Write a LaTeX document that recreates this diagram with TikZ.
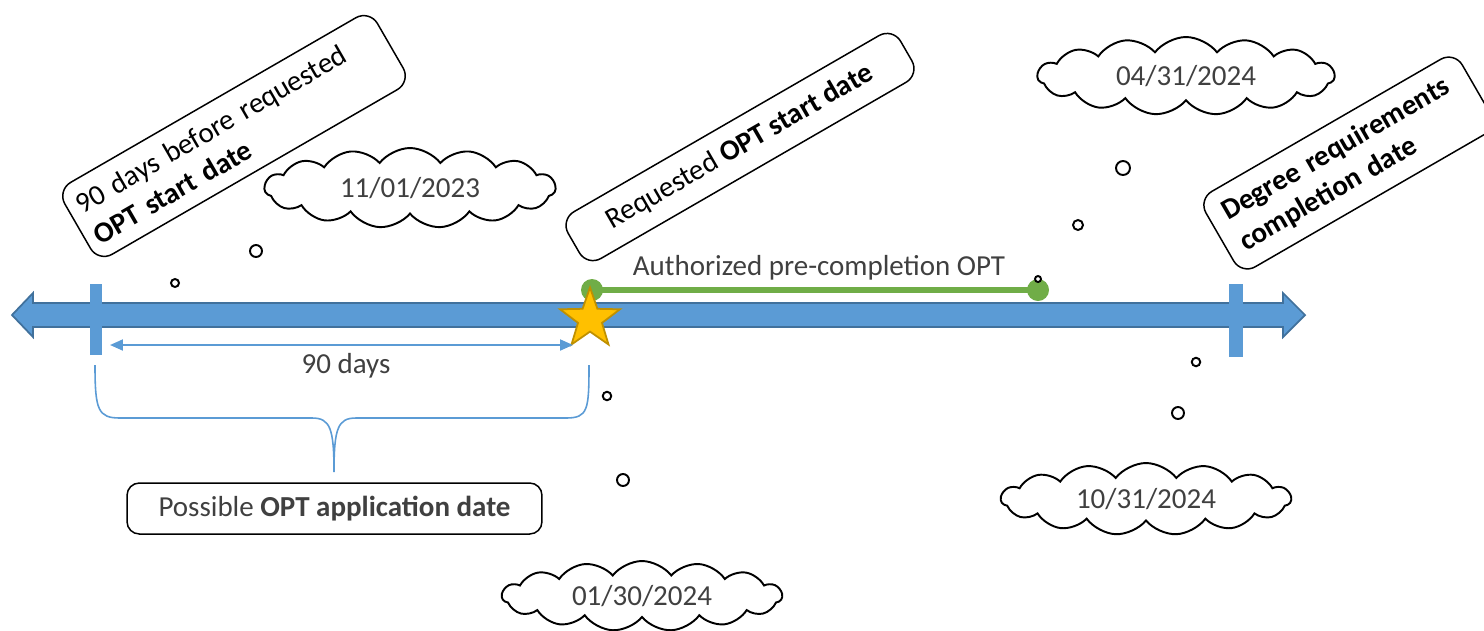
\documentclass[tikz,border=0pt]{standalone}
\usepackage{fontspec}
\setmainfont{Carlito}
\usetikzlibrary{shapes.geometric,shapes.symbols,arrows.meta}
\definecolor{axisblue}{HTML}{5B9BD5}
\definecolor{axisedge}{HTML}{41719C}
\definecolor{optgreen}{HTML}{70AD47}
\definecolor{stargold}{HTML}{FFC000}
\definecolor{staredge}{HTML}{BF9000}
\definecolor{txtgray}{HTML}{404040}

\begin{document}
\begin{tikzpicture}[x=0.02cm,y=-0.02cm]
\tikzstyle{every node}+=[font=\fontsize{16.5}{20}\selectfont]
\tikzstyle{datebox}=[draw=black, line width=0.85pt, rounded corners=9pt, rotate=30, inner sep=0pt, align=left]
\tikzstyle{datecloud}=[cloud, draw=black, line width=1.1pt, fill=white, cloud puffs=15, cloud puff arc=105, cloud ignores aspect, text=txtgray, inner sep=0pt]
\tikzstyle{bubble}=[circle, draw=black, line width=1.1pt, fill=white, inner sep=0pt]
\tikzstyle{tick}=[rectangle, fill=axisblue, inner sep=0pt]
\tikzstyle{gdot}=[circle, fill=optgreen, inner sep=0pt, minimum size=0.44cm]
\useasboundingbox (0,0) rectangle (1484,630);
% time line
\draw [axisedge, fill=axisblue, line width=1pt] (12,315) -- (33,293) -- (33,303) -- (1283,303) -- (1283,293) -- (1305,315) -- (1283,337) -- (1283,327) -- (33,327) -- (33,337) -- cycle;
\node [tick, minimum width=0.24cm, minimum height=1.42cm] (t0) at (96,319) {};
\node [tick, minimum width=0.28cm, minimum height=1.46cm] (t1) at (1236,320) {};
% authorized period
\node [gdot] (g0) at (592,290) {};
\node [gdot] (g1) at (1038,290) {};
\draw [optgreen, line width=3.4pt] (g0.center) -- (g1.center);
\node [text=txtgray] (auth) at (819,268) {Authorized pre-completion OPT};
\node [star, star points=5, star point ratio=2.5, fill=stargold, draw=staredge, line width=1pt, minimum size=1.26cm, inner sep=0pt] (start) at (590,319) {};
% 90 days
\coordinate (d0) at (110,345);
\coordinate (d1) at (573,345);
\draw [axisblue, line width=1.1pt, {Triangle[length=0.26cm,width=0.22cm]}-{Triangle[length=0.26cm,width=0.22cm]}] (d0) -- (d1);
\node [text=txtgray] (ninety) at (346,366) {90 days};
% brace
\coordinate (bl) at (95,365);
\coordinate (br) at (589,365);
\coordinate (btip) at (334,472);
\draw [axisblue, line width=0.9pt] (bl) .. controls (95,410) and (98,418) .. (120,418) -- (312,418) .. controls (330,418) and (334,428) .. (btip) .. controls (334,428) and (338,418) .. (356,418) -- (566,418) .. controls (588,418) and (589,410) .. (br);
\node [draw=black, line width=0.85pt, rounded corners=7pt, minimum width=8.3cm, minimum height=1.02cm, text=txtgray] (apply) at (334.5,508.5) {Possible \textbf{OPT application date}};
% date boxes
\node [datebox, minimum width=7.22cm, minimum height=1.66cm, text width=6.82cm] (b1) at (234,136) {90 days before requested\\\textbf{OPT start date}};
\node [datebox, minimum width=7.68cm, minimum height=1.08cm] (b2) at (740,147) {Requested \textbf{OPT start date}};
\node [datebox, minimum width=5.92cm, minimum height=1.74cm, text width=5.3cm] (b3) at (1348,163) {\textbf{Degree requirements}\\\textbf{completion date}};
% clouds
\node [datecloud, minimum width=5.82cm, minimum height=1.6cm] (c1) at (410,188) {11/01/2023};
\node [bubble, minimum size=0.24cm] (c1a) at (256,251) {};
\node [bubble, minimum size=0.16cm] (c1b) at (175,283) {};
\node [datecloud, minimum width=5.6cm, minimum height=1.4cm] (c2) at (642,596) {01/30/2024};
\node [bubble, minimum size=0.24cm] (c2a) at (623,480) {};
\node [bubble, minimum size=0.17cm] (c2b) at (607,396) {};
\node [datecloud, minimum width=5.8cm, minimum height=1.44cm] (c3) at (1146,499) {10/31/2024};
\node [bubble, minimum size=0.24cm] (c3a) at (1178,413) {};
\node [bubble, minimum size=0.17cm] (c3b) at (1196,362) {};
\node [datecloud, minimum width=5.94cm, minimum height=1.56cm] (c4) at (1186,76) {04/31/2024};
\node [bubble, minimum size=0.28cm] (c4a) at (1123,168) {};
\node [bubble, minimum size=0.2cm] (c4b) at (1078,225) {};
\node [bubble, minimum size=0.12cm] (c4c) at (1038,279) {};
\end{tikzpicture}
\end{document}
